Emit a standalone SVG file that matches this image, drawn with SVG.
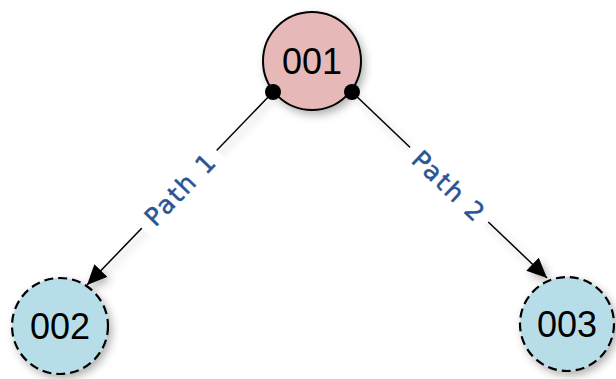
<svg xmlns="http://www.w3.org/2000/svg" width="616" height="379" viewBox="0 0 616 379">
  <defs>
    <filter id="shadow" x="-30%" y="-30%" width="160%" height="160%">
      <feDropShadow dx="3" dy="4" stdDeviation="4" flood-color="#000" flood-opacity="0.3"/>
    </filter>
    <marker id="arrow" viewBox="0 0 20 18" refX="20" refY="9" markerWidth="20" markerHeight="18" markerUnits="userSpaceOnUse" orient="auto">
      <path d="M0,0 L20,9 L0,18 Z" fill="#000"/>
    </marker>
    <style>
      .node-text { font-family: "Liberation Sans", Arial, sans-serif; font-size: 36px; fill: #000; text-anchor: middle; dominant-baseline: central; }
      .root { fill: #E6B9B8; stroke: #000; stroke-width: 2; }
      .leaf { fill: #B7DEE8; stroke: #000; stroke-width: 2.2; stroke-dasharray: 9 5; }
      .edge { stroke: #000; stroke-width: 1.5; fill: none; }
      .label-bg { fill: #fff; }
      .label { font-family: "DejaVu Sans", Verdana, sans-serif; font-size: 25px; fill: #2A5494; stroke: #2A5494; stroke-width: 0.5; text-anchor: middle; dominant-baseline: central; letter-spacing: 2px; }
    </style>
  </defs>
  <rect width="616" height="379" fill="#fff"/>
  <g id="connectors" filter="url(#shadow)">
    <line class="edge" x1="273" y1="92" x2="87" y2="285" marker-end="url(#arrow)"/>
    <line class="edge" x1="352" y1="92" x2="547" y2="278" marker-end="url(#arrow)"/>
  </g>
  <g id="labels">
    <g transform="translate(180,190) rotate(-46)">
      <rect class="label-bg" x="-54" y="-14" width="108" height="28"/>
      <text class="label" x="1" y="0">Path 1</text>
    </g>
    <g transform="translate(448,186) rotate(43.6)">
      <rect class="label-bg" x="-54" y="-14" width="108" height="28"/>
      <text class="label" x="1" y="0">Path 2</text>
    </g>
  </g>
  <g id="node-001">
    <circle class="root" cx="312" cy="61" r="49" filter="url(#shadow)"/>
    <text class="node-text" x="312" y="61">001</text>
    <circle cx="273" cy="92" r="8" fill="#000"/>
    <circle cx="352" cy="92" r="8" fill="#000"/>
  </g>
  <g id="node-002">
    <circle class="leaf" cx="60" cy="326" r="48" filter="url(#shadow)"/>
    <text class="node-text" x="60" y="326">002</text>
  </g>
  <g id="node-003">
    <circle class="leaf" cx="567" cy="324" r="47" filter="url(#shadow)"/>
    <text class="node-text" x="567" y="324">003</text>
  </g>
</svg>
